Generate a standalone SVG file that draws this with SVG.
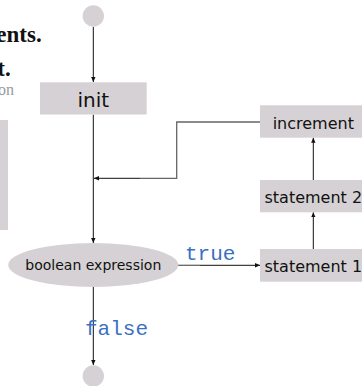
<svg xmlns="http://www.w3.org/2000/svg" width="362" height="386" viewBox="0 0 362 386">
<style>
.n{fill:#d6d1d4}
.lb{font-family:"DejaVu Sans",sans-serif;fill:#111;text-anchor:middle}
.c{font-family:"Liberation Mono","Courier New",monospace;font-size:21px;fill:#3a6fc4}
.e{stroke:#111;stroke-width:1;fill:none}
.g{stroke:#666;stroke-width:1.3;fill:none}
.s{font-family:"Liberation Serif",serif;text-anchor:end}
</style>
<defs>
<marker id="a" markerWidth="6" markerHeight="6" refX="5" refY="3" orient="auto" markerUnits="userSpaceOnUse">
<path d="M0,0.8 L5,3 L0,5.2 z" fill="#111"/>
</marker>
</defs>
<rect x="0" y="120" width="8" height="110" fill="#d6d1d4"/>
<text class="s" x="41.7" y="41.5" font-size="23" font-weight="bold" fill="#111">ents.</text>
<text class="s" x="10.7" y="76" font-size="23" font-weight="bold" fill="#111">t.</text>
<text class="s" x="14" y="95" font-size="16" fill="#999">on</text>
<g id="connectors">
<line class="e" x1="93.3" y1="27" x2="93.3" y2="82" marker-end="url(#a)"/>
<line class="e" x1="93.3" y1="114.7" x2="93.3" y2="243" marker-end="url(#a)"/>
<polyline class="g" points="260,122 176.7,122 176.7,178.3 140,178.3"/>
<line class="e" x1="140" y1="178.3" x2="94" y2="178.3" marker-end="url(#a)"/>
<line class="g" x1="178" y1="265.3" x2="200" y2="265.3"/>
<line class="e" x1="200" y1="265.3" x2="260" y2="265.3" marker-end="url(#a)"/>
<line class="e" x1="313.3" y1="249" x2="313.3" y2="212.3" marker-end="url(#a)"/>
<line class="e" x1="313.3" y1="180" x2="313.3" y2="137.7" marker-end="url(#a)"/>
<line class="e" x1="93.3" y1="287" x2="93.3" y2="365" marker-end="url(#a)"/>
<text class="c" x="185" y="260">true</text>
<text class="c" x="85" y="335">false</text>
</g>
<g id="start"><circle class="n" cx="93.3" cy="16" r="10.7"/></g>
<g id="init"><rect class="n" x="40" y="82.3" width="106.7" height="32.2"/><text class="lb" x="93.3" y="106.7" font-size="20">init</text></g>
<g id="increment"><rect class="n" x="260" y="105.3" width="106.7" height="32.4"/><text class="lb" x="313.3" y="129" font-size="16">increment</text></g>
<g id="statement2"><rect class="n" x="260" y="180" width="106.7" height="32.3"/><text class="lb" x="313.3" y="202.5" font-size="16">statement 2</text></g>
<g id="statement1"><rect class="n" x="260" y="249" width="106.7" height="32.7"/><text class="lb" x="313.3" y="271.5" font-size="16">statement 1</text></g>
<g id="condition"><ellipse class="n" cx="93.3" cy="265" rx="85" ry="22"/><text class="lb" x="93.3" y="270" font-size="14">boolean expression</text></g>
<g id="end"><circle class="n" cx="93.3" cy="376" r="10.7"/></g>
</svg>
